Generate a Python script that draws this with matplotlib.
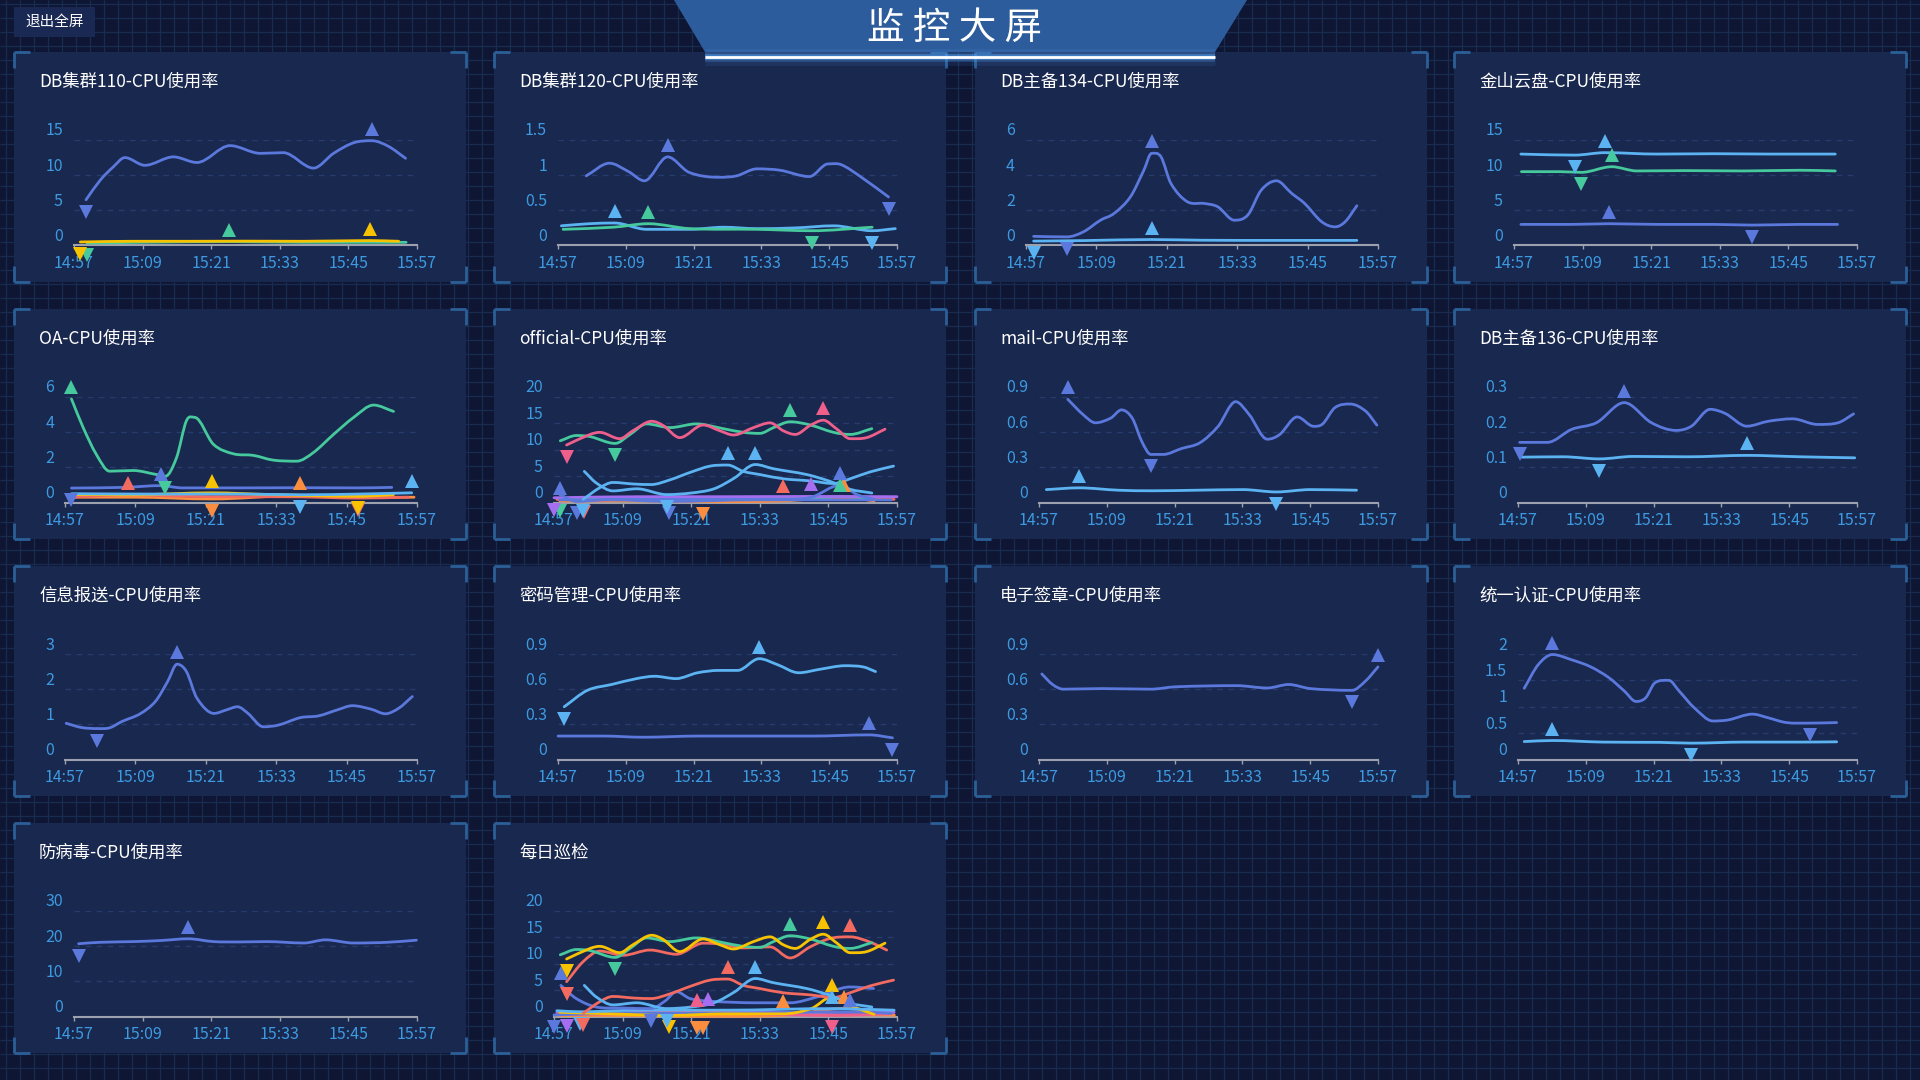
import numpy as np
import matplotlib
matplotlib.use('Agg')
import matplotlib.pyplot as plt
from matplotlib.path import Path
from matplotlib.patches import PathPatch, Rectangle, Polygon
from matplotlib.transforms import offset_copy
from matplotlib.collections import LineCollection

plt.rcParams['font.family'] = ['Noto Sans CJK SC', 'DejaVu Sans']

# ---------------- colours ----------------
BLUE = '#5b78dc'
LBLUE = '#5cb3f2'
GREEN = '#46c99c'
YELLOW = '#f7c300'
RED = '#f26a60'
ORANGE = '#fb8e3e'
PINK = '#ef5f8b'
PURPLE = '#a56ef0'

# ---------------- texts ----------------
HEADER = '监 控 大 屏'
BUTTON = '退出全屏'
TITLES = ['DB集群110-CPU使用率', 'DB集群120-CPU使用率', 'DB主备134-CPU使用率', '金山云盘-CPU使用率',
          'OA-CPU使用率', 'official-CPU使用率', 'mail-CPU使用率', 'DB主备136-CPU使用率',
          '信息报送-CPU使用率', '密码管理-CPU使用率', '电子签章-CPU使用率', '统一认证-CPU使用率',
          '防病毒-CPU使用率', '每日巡检']
TIME_LABELS = ['14:57', '15:09', '15:21', '15:33', '15:45', '15:57']

YTICKS = [[0, 5, 10, 15], [0, 0.5, 1, 1.5], [0, 2, 4, 6], [0, 5, 10, 15],
          [0, 2, 4, 6], [0, 5, 10, 15, 20], [0, 0.3, 0.6, 0.9], [0, 0.1, 0.2, 0.3],
          [0, 1, 2, 3], [0, 0.3, 0.6, 0.9], [0, 0.3, 0.6, 0.9], [0, 0.5, 1, 1.5, 2],
          [0, 10, 20, 30], [0, 5, 10, 15, 20]]

# ---------------- data (t = minutes after 14:57) ----------------
# DB集群110
db110_blue_t = [2.1, 4.6, 6.9, 8.9, 12.4, 17.4, 21.5, 27.3, 32.6, 36.6, 41.9, 45.4, 48.9, 52.1, 55.0, 58.0]
db110_blue_v = [6.5, 9.3, 11.2, 12.5, 11.4, 12.6, 11.8, 14.2, 13.1, 13.2, 11.0, 13.1, 14.6, 14.9, 14.1, 12.4]
db110_green_t = [2.3, 12, 27.1, 40, 50, 58.1]
db110_green_v = [0.35, 0.45, 0.55, 0.45, 0.45, 0.45]
db110_yellow_t = [1.1, 10, 20, 30, 40, 51.7, 56.8]
db110_yellow_v = [0.5, 0.6, 0.6, 0.62, 0.6, 0.7, 0.6]

# DB集群120
db120_blue_t = [5.0, 9.1, 12.5, 15.3, 19.4, 23.2, 28.5, 31.6, 35.2, 39.3, 44.5, 47.8, 50.1, 53.7, 58.5]
db120_blue_v = [0.99, 1.17, 1.05, 0.92, 1.26, 1.04, 0.97, 0.99, 1.09, 1.07, 0.98, 1.16, 1.15, 0.97, 0.69]
db120_lblue_t = [0.6, 5.6, 10.0, 15.7, 23.3, 29.3, 35.2, 42, 48.8, 55.6, 59.7]
db120_lblue_v = [0.28, 0.31, 0.32, 0.23, 0.23, 0.26, 0.24, 0.25, 0.28, 0.21, 0.24]
db120_green_t = [0.9, 9.8, 16.0, 23.3, 35.2, 44.9, 55.6]
db120_green_v = [0.23, 0.26, 0.31, 0.24, 0.23, 0.21, 0.26]

# DB主备134
db134_blue_t = [1.3, 7.0, 9.8, 12.7, 15.0, 17.8, 20.1, 21.4, 23.0, 24.7, 27.5, 30.4, 32.7, 35.5, 37.8,
                40.1, 42.7, 45.3, 47.5, 50.4, 52.7, 54.4, 56.4]
db134_blue_v = [0.52, 0.49, 0.78, 1.44, 1.82, 2.77, 4.29, 5.24, 5.05, 3.53, 2.49, 2.39, 2.2, 1.44, 1.73,
                3.15, 3.68, 2.96, 2.39, 1.35, 1.06, 1.35, 2.26]
db134_lblue_t = [1.3, 10, 21.4, 30, 45, 56.4]
db134_lblue_v = [0.25, 0.28, 0.34, 0.3, 0.29, 0.29]

# 金山云盘
ks_lblue_t = [1.2, 10.6, 15.9, 25, 35, 45, 56.2]
ks_lblue_v = [13.0, 12.85, 13.2, 13.0, 13.05, 13.0, 13.0]
ks_green_t = [1.3, 8, 11.8, 17.1, 21.5, 30, 40, 50, 56.2]
ks_green_v = [10.5, 10.5, 10.4, 11.2, 10.6, 10.65, 10.6, 10.7, 10.6]
ks_blue_t = [1.2, 10, 16.6, 25, 35, 41.7, 50, 56.6]
ks_blue_v = [3.0, 3.0, 3.1, 3.0, 3.0, 2.9, 3.0, 3.0]

# OA
oa_green_t = [1.1, 3.1, 5.35, 7.6, 11.6, 15.6, 17.1, 19.0, 20.7, 22.1, 25.3, 28.7, 32.1, 35.5, 39.5, 42.3,
              45.8, 49.2, 52.6, 56.0]
oa_green_v = [5.89, 4.26, 2.73, 1.78, 1.82, 1.59, 1.49, 2.54, 4.65, 4.84, 3.31, 2.77, 2.68, 2.41, 2.35, 2.83,
              3.88, 4.84, 5.54, 5.18]
oa_blue_t = [1.1, 10, 16.3, 20, 30, 40, 50, 55.7]
oa_blue_v = [0.82, 0.86, 0.96, 0.83, 0.83, 0.84, 0.83, 0.86]
oa_lblue_t = [1.1, 15, 30, 40.1, 50, 59.1]
oa_lblue_v = [0.5, 0.48, 0.48, 0.44, 0.48, 0.55]
oa_red_t = [1.1, 10.8, 20, 30, 40, 50, 58.5]
oa_red_v = [0.3, 0.45, 0.35, 0.33, 0.32, 0.25, 0.3]
oa_yellow_t = [1.1, 12, 25, 35, 50, 56]
oa_yellow_v = [0.45, 0.45, 0.55, 0.45, 0.35, 0.45]
oa_orange_t = [1.1, 12, 25, 40.1, 50, 59.5]
oa_orange_v = [0.3, 0.3, 0.2, 0.4, 0.3, 0.3]

# official
off_green_t = [1.1, 3.9, 6.3, 10.7, 13.3, 16.2, 20.3, 24.9, 29.6, 33.1, 36.0, 38.4, 41.3, 44.8, 48.9, 51.8, 55.6]
off_green_v = [11.7, 12.7, 12.5, 11.2, 12.9, 14.9, 14.2, 14.9, 14.0, 13.3, 13.1, 14.2, 15.3, 14.7, 13.3, 12.9, 14.0]
off_pink_t = [2.2, 6.3, 8.0, 11.5, 13.8, 17.1, 19.1, 22.0, 26.1, 29.0, 31.4, 34.9, 37.8, 40.1, 42.2, 44.8,
              47.1, 49.5, 51.8, 54.7, 57.9]
off_pink_v = [10.9, 12.9, 13.3, 12.1, 13.6, 15.4, 14.6, 12.3, 14.7, 13.6, 12.8, 14.2, 15.1, 13.6, 12.9, 14.6,
              15.6, 13.9, 12.1, 12.3, 13.9]
off_lba_t = [5.3, 7.4, 10.3, 14.5, 19.7, 24, 28, 31.5, 35.2, 38.4, 44.2, 48.3, 51.8, 55.6]
off_lba_v = [5.9, 3.7, 2.2, 2.6, 1.5, 1.8, 2.6, 4.6, 7.2, 6.4, 5.3, 4.0, 2.5, 1.8]
off_lbb_t = [5.1, 8.0, 10.3, 14, 17, 20.3, 23.8, 27.3, 30.4, 33.1, 36, 40.1, 44.8, 48.9, 51.8, 55.3, 59.4]
off_lbb_v = [0.6, 2.8, 3.8, 3.5, 3.4, 4.3, 5.7, 6.9, 7.1, 5.9, 5.3, 4.5, 4.1, 3.6, 4.5, 5.8, 6.9]
off_blue_t = [1, 4.0, 10, 20, 30, 40, 45, 50.1, 53, 56]
off_blue_v = [1.5, 0.2, 0.6, 0.6, 0.6, 0.6, 1.0, 3.3, 1.5, 0.6]
off_blue2_t = [1, 10, 20.1, 35, 50, 59]
off_blue2_v = [0.5, 0.5, 0.2, 0.5, 0.5, 0.5]
off_purple_t = [0, 15, 30, 45, 60]
off_purple_v = [0.9, 1.1, 1.1, 1.15, 1.1]
off_red_t = [0.5, 5.3, 15, 25, 40, 50, 59.5]
off_red_v = [0.6, 0.4, 0.6, 0.6, 0.8, 0.6, 0.6]
off_orange_t = [1, 12, 26.1, 40, 50.8, 56]
off_orange_v = [0.3, 0.3, 0.15, 0.3, 1.0, 0.3]
off_green2_t = [1.1, 15, 30, 45, 50.1, 55.5]
off_green2_v = [0.6, 0.8, 0.8, 0.8, 1.1, 0.8]

# mail
mail_blue_t = [5.1, 7.8, 10.0, 12.7, 14.6, 16.5, 18.2, 19.8, 22.0, 25.2, 28.5, 31.7, 34.8, 37.2, 40.4, 42.6,
               45.7, 48.6, 50.2, 52.4, 55.1, 57.8, 59.8]
mail_blue_v = [0.88, 0.75, 0.68, 0.72, 0.79, 0.72, 0.52, 0.41, 0.41, 0.46, 0.51, 0.65, 0.86, 0.75, 0.54, 0.58,
               0.73, 0.65, 0.67, 0.81, 0.84, 0.78, 0.66]
mail_lblue_t = [1.3, 7.1, 14, 20, 28, 36.1, 42.0, 48, 56.2]
mail_lblue_v = [0.11, 0.125, 0.105, 0.1, 0.105, 0.11, 0.09, 0.11, 0.105]

# DB主备136
db136_blue_t = [0.3, 5.2, 9.5, 13.9, 18.8, 23.6, 28.0, 30.7, 34.0, 36.7, 40.5, 44.3, 48.6, 53.0, 56.7, 59.4]
db136_blue_v = [0.171, 0.171, 0.208, 0.227, 0.284, 0.227, 0.205, 0.217, 0.265, 0.253, 0.217, 0.231, 0.238,
                0.222, 0.227, 0.252]
db136_lblue_t = [0.7, 8, 14.4, 20.4, 30, 40.5, 50, 59.6]
db136_lblue_v = [0.129, 0.13, 0.124, 0.131, 0.13, 0.134, 0.13, 0.127]

# 信息报送
xxbs_blue_t = [0.2, 2.8, 5.5, 7.6, 9.7, 12.8, 15.4, 17.5, 19.1, 20.7, 22.5, 25.4, 27.5, 29.4, 31.2, 33.8,
               36.4, 40.1, 43.2, 46.4, 49.0, 52.2, 54.6, 56.9, 59.2]
xxbs_blue_v = [1.03, 0.91, 0.88, 0.9, 1.08, 1.3, 1.65, 2.22, 2.71, 2.5, 1.74, 1.31, 1.41, 1.5, 1.31, 0.93,
               0.98, 1.19, 1.24, 1.41, 1.53, 1.43, 1.3, 1.46, 1.79]

# 密码管理
mmgl_lblue_t = [1.1, 5.2, 9.5, 13.9, 17.1, 20.9, 24.7, 28.5, 31.8, 35.6, 38.8, 42.6, 46.4, 50.8, 54.0, 56.2]
mmgl_lblue_v = [0.45, 0.59, 0.64, 0.69, 0.71, 0.69, 0.74, 0.76, 0.76, 0.86, 0.81, 0.74, 0.77, 0.8, 0.79, 0.75]
mmgl_blue_t = [0, 8, 15, 25, 35, 45, 55.1, 59.2]
mmgl_blue_v = [0.2, 0.2, 0.19, 0.2, 0.2, 0.2, 0.21, 0.185]

# 电子签章
dzqz_blue_t = [0.5, 2.4, 4.3, 11.1, 19.8, 24.1, 35, 40.4, 44.2, 48.0, 55.4, 57.8, 60]
dzqz_blue_v = [0.73, 0.64, 0.6, 0.605, 0.6, 0.62, 0.63, 0.61, 0.64, 0.605, 0.59, 0.67, 0.79]

# 统一认证
tyrz_blue_t = [1.1, 3.6, 6.1, 9.5, 12.8, 16.1, 18.8, 20.9, 22.6, 24.2, 26.7, 28.5, 31.2, 34.5, 37.2, 41.5,
               44.3, 47.5, 51.6, 56.4]
tyrz_blue_v = [1.35, 1.8, 1.99, 1.89, 1.76, 1.55, 1.3, 1.1, 1.17, 1.45, 1.5, 1.3, 0.98, 0.73, 0.75, 0.86,
               0.79, 0.7, 0.69, 0.7]
tyrz_lblue_t = [1.1, 6.1, 15, 25, 30.7, 40, 50, 56.4]
tyrz_lblue_v = [0.34, 0.36, 0.33, 0.325, 0.31, 0.33, 0.33, 0.335]

# 防病毒
fbd_blue_t = [0.8, 4.6, 10.4, 15.1, 20.0, 24.4, 29.1, 33.7, 40.2, 44.0, 48.9, 54.8, 59.9]
fbd_blue_v = [20.7, 21.1, 21.3, 21.6, 22.1, 21.3, 21.2, 21.3, 20.9, 21.8, 20.9, 21.1, 21.7]

# 每日巡检 (extra series; others shared with official)
daily_red_t = [2.2, 5.1, 8.0, 12.1, 16.8, 21.4, 26.1, 29.6, 33.1, 37.8, 41.3, 44.8, 48.3, 51.8, 55.3, 58.2]
daily_red_v = [6.6, 10.4, 12.4, 11.6, 12.6, 11.8, 13.9, 13.7, 13.0, 13.2, 11.1, 13.2, 14.8, 15.1, 14.1, 12.6]
daily_blue_t = [1.2, 3.9, 7.4, 12.1, 17.0, 19.5, 21.4, 23.8, 27.3, 35.5, 41.3, 46.0, 51.8, 55.9]
daily_blue_v = [5.9, 3.4, 1.8, 1.6, 1.5, 3.0, 4.7, 3.4, 2.9, 2.6, 2.6, 3.7, 5.6, 5.3]
daily_pink_t = [0.5, 10, 25, 35, 48.6, 59]
daily_pink_v = [0.4, 0.5, 0.9, 0.5, 0.2, 0.5]
daily_purple_t = [0.5, 2.2, 15, 27, 40, 59.5]
daily_purple_v = [0.8, 0.5, 0.8, 1.1, 0.8, 0.8]
daily_orange_t = [0.5, 12, 25, 40, 50, 59.5]
daily_orange_v = [0.3, 0.3, 0.1, 0.6, 0.3, 0.3]
daily_orange2_t = [1, 15, 26.1, 40, 50.8, 59.5]
daily_orange2_v = [0.2, 0.2, 0.05, 0.2, 1.5, 0.2]
daily_lblue2_t = [0.5, 4.5, 15, 30, 48.6, 59.5]
daily_lblue2_v = [1.1, 0.9, 1.2, 1.2, 1.5, 1.2]
daily_yellow2_t = [1, 10, 20.1, 30, 40, 45, 48.6, 52, 56]
daily_yellow2_v = [0.8, 0.5, 0.2, 0.5, 0.5, 1.5, 3.7, 2.0, 0.4]
daily_blue2_t = [0, 10, 30, 51.7, 59]
daily_blue2_v = [0.3, 0.6, 0.6, 0.9, 0.6]

PANEL_SERIES = [
    [(db110_blue_t, db110_blue_v, BLUE), (db110_green_t, db110_green_v, GREEN),
     (db110_yellow_t, db110_yellow_v, YELLOW)],
    [(db120_blue_t, db120_blue_v, BLUE), (db120_lblue_t, db120_lblue_v, LBLUE),
     (db120_green_t, db120_green_v, GREEN)],
    [(db134_blue_t, db134_blue_v, BLUE), (db134_lblue_t, db134_lblue_v, LBLUE)],
    [(ks_lblue_t, ks_lblue_v, LBLUE), (ks_green_t, ks_green_v, GREEN), (ks_blue_t, ks_blue_v, BLUE)],
    [(oa_orange_t, oa_orange_v, ORANGE), (oa_red_t, oa_red_v, RED), (oa_yellow_t, oa_yellow_v, YELLOW),
     (oa_lblue_t, oa_lblue_v, LBLUE), (oa_blue_t, oa_blue_v, BLUE), (oa_green_t, oa_green_v, GREEN)],
    [(off_orange_t, off_orange_v, ORANGE), (off_red_t, off_red_v, RED), (off_green2_t, off_green2_v, GREEN),
     (off_purple_t, off_purple_v, PURPLE), (off_blue2_t, off_blue2_v, BLUE), (off_blue_t, off_blue_v, BLUE),
     (off_lbb_t, off_lbb_v, LBLUE), (off_lba_t, off_lba_v, LBLUE), (off_green_t, off_green_v, GREEN),
     (off_pink_t, off_pink_v, PINK)],
    [(mail_blue_t, mail_blue_v, BLUE), (mail_lblue_t, mail_lblue_v, LBLUE)],
    [(db136_blue_t, db136_blue_v, BLUE), (db136_lblue_t, db136_lblue_v, LBLUE)],
    [(xxbs_blue_t, xxbs_blue_v, BLUE)],
    [(mmgl_lblue_t, mmgl_lblue_v, LBLUE), (mmgl_blue_t, mmgl_blue_v, BLUE)],
    [(dzqz_blue_t, dzqz_blue_v, BLUE)],
    [(tyrz_blue_t, tyrz_blue_v, BLUE), (tyrz_lblue_t, tyrz_lblue_v, LBLUE)],
    [(fbd_blue_t, fbd_blue_v, BLUE)],
    [(daily_orange_t, daily_orange_v, ORANGE), (daily_orange2_t, daily_orange2_v, ORANGE),
     (daily_purple_t, daily_purple_v, PURPLE), (daily_pink_t, daily_pink_v, PINK),
     (daily_blue2_t, daily_blue2_v, BLUE), (daily_yellow2_t, daily_yellow2_v, YELLOW),
     (daily_lblue2_t, daily_lblue2_v, LBLUE),
     (daily_blue_t, daily_blue_v, BLUE), (off_lbb_t, off_lbb_v, RED), (off_lba_t, off_lba_v, LBLUE),
     (daily_red_t, daily_red_v, RED), (off_green_t, off_green_v, GREEN), (off_pink_t, off_pink_v, YELLOW)],
]

# ---------------- style ----------------
W, H = 1920, 1080
PAGE_BG = '#0e1634'
GRID_BG = '#182c4f'
PANEL_BG = '#19284f'
BRACKET = '#2b5f97'
LABEL_C = '#3d9ae0'
AXIS_C = '#9ca1ad'
GRID_C = '#263c6c'
PANEL_X = [14, 494, 975, 1454]
PANEL_Y = [52, 309, 566, 823]
PANEL_W, PANEL_H = 452, 230


def tmin(lbl):
    h, m = lbl.split(':')
    return int(h) * 60 + int(m) - (14 * 60 + 57)


fig = plt.figure(figsize=(19.2, 10.8), dpi=100)
fig.patch.set_facecolor(PAGE_BG)
bg = fig.add_axes([0, 0, 1, 1])
bg.set_xlim(0, W)
bg.set_ylim(H, 0)
bg.axis('off')

segs = [[(x, 0), (x, H)] for x in range(6, W, 14)] + [[(0, y), (W, y)] for y in range(4, H, 14)]
bg.add_collection(LineCollection(segs, colors=GRID_BG, linewidths=0.9, zorder=0))

# header
bg.add_patch(Polygon([(674, 0), (1247, 0), (1215, 52), (705, 52)], closed=True,
                     facecolor='#2d5c9c', edgecolor='none', zorder=5))
for lw, a in [(12, 0.10), (7, 0.25), (4, 0.5)]:
    bg.plot([705, 1215], [57, 57], color='#58a8ff', lw=lw, alpha=a, zorder=6, solid_capstyle='butt')
bg.plot([705, 1215], [57, 57], color='white', lw=2, zorder=7, solid_capstyle='butt')
bg.text(955, 28, HEADER, color='white', fontsize=27, ha='center', va='center', zorder=8)

# exit button
bg.add_patch(Rectangle((14, 7), 81, 30, facecolor='#1a2854', edgecolor='none', zorder=3))
bg.text(55, 22, BUTTON, color='white', fontsize=10.5, ha='center', va='center', zorder=4)


def bracket(px, py):
    L = 16
    kw = dict(color=BRACKET, lw=2.0, zorder=4, solid_capstyle='butt')
    x0, x1, y0, y1 = px, px + PANEL_W, py, py + PANEL_H
    bg.plot([x0, x0 + L], [y0, y0], **kw); bg.plot([x0, x0], [y0, y0 + L], **kw)
    bg.plot([x1 - L, x1], [y0, y0], **kw); bg.plot([x1, x1], [y0, y0 + L], **kw)
    bg.plot([x0, x0 + L], [y1, y1], **kw); bg.plot([x0, x0], [y1 - L, y1], **kw)
    bg.plot([x1 - L, x1], [y1, y1], **kw); bg.plot([x1, x1], [y1 - L, y1], **kw)


def smooth_patch(t, v, color):
    t = np.asarray(t, float)
    v = np.asarray(v, float)
    n = len(t)
    m = np.zeros(n)
    if n > 2:
        m[1:-1] = (v[2:] - v[:-2]) / (t[2:] - t[:-2])
        for i in range(1, n - 1):
            if (v[i] - v[i - 1]) * (v[i + 1] - v[i]) <= 0:
                m[i] = 0.0
    m[0] = (v[1] - v[0]) / (t[1] - t[0])
    m[-1] = (v[-1] - v[-2]) / (t[-1] - t[-2])
    verts = [(t[0], v[0])]
    codes = [Path.MOVETO]
    for i in range(n - 1):
        h = t[i + 1] - t[i]
        verts += [(t[i] + h / 3, v[i] + m[i] * h / 3), (t[i + 1] - h / 3, v[i + 1] - m[i + 1] * h / 3),
                  (t[i + 1], v[i + 1])]
        codes += [Path.CURVE4] * 3
    return PathPatch(Path(verts, codes), fill=False, edgecolor=color, lw=2.0,
                     capstyle='round', joinstyle='round', clip_on=False, zorder=3)


xt = [tmin(s) for s in TIME_LABELS]

for k, title in enumerate(TITLES):
    px = PANEL_X[k % 4]
    py = PANEL_Y[k // 4]
    bg.add_patch(Rectangle((px, py), PANEL_W, PANEL_H, facecolor=PANEL_BG, edgecolor='none', zorder=2))
    bracket(px, py)
    bg.text(px + 25, py + 30, title, color='white', fontsize=12.5, ha='left', va='center', zorder=4)

    yt = YTICKS[k]
    labels = ['%g' % v for v in yt]
    maxlen = max(len(s) for s in labels)
    loff = {1: 51, 2: 60, 3: 64}[maxlen]
    l, r = px + loff, px + 403
    t_, b_ = py + 88, py + 193.5
    ax = fig.add_axes([l / W, 1 - b_ / H, (r - l) / W, (b_ - t_) / H])
    ax.patch.set_alpha(0)
    ax.set_xlim(0, 60)
    ax.set_ylim(0, yt[-1])
    for s in ['top', 'right', 'left']:
        ax.spines[s].set_visible(False)
    ax.spines['bottom'].set_color(AXIS_C)
    ax.spines['bottom'].set_linewidth(1.5)
    ax.set_xticks(xt)
    ax.set_xticklabels(TIME_LABELS)
    ax.tick_params(axis='x', colors=AXIS_C, labelcolor=LABEL_C, length=3, width=1, pad=3.5, labelsize=11.5)
    ax.set_yticks(yt)
    ax.set_yticklabels([])
    ax.tick_params(axis='y', length=0)
    ax.grid(axis='y', color=GRID_C, lw=1, ls=(0, (4, 4)))
    ax.grid(axis='x', visible=False)
    trl = offset_copy(ax.get_yaxis_transform(), fig=fig, x=-11, y=9, units='dots')
    for v, s in zip(yt, labels):
        ax.text(0, v, s, transform=trl, ha='right', va='center', color=LABEL_C, fontsize=11.5)

    up = offset_copy(ax.transData, fig=fig, x=0, y=12, units='dots')
    dn = offset_copy(ax.transData, fig=fig, x=0, y=-12, units='dots')
    for (ts, vs, col) in PANEL_SERIES[k]:
        ax.add_patch(smooth_patch(ts, vs, col))
    for (ts, vs, col) in PANEL_SERIES[k]:
        imax = int(np.argmax(vs))
        imin = int(np.argmin(vs))
        ax.plot([ts[imax]], [vs[imax]], marker='^', ms=10.5, mew=0, color=col, transform=up,
                clip_on=False, zorder=5)
        ax.plot([ts[imin]], [vs[imin]], marker='v', ms=10.5, mew=0, color=col, transform=dn,
                clip_on=False, zorder=5)

fig.savefig('out.png', dpi=100, facecolor=PAGE_BG)
